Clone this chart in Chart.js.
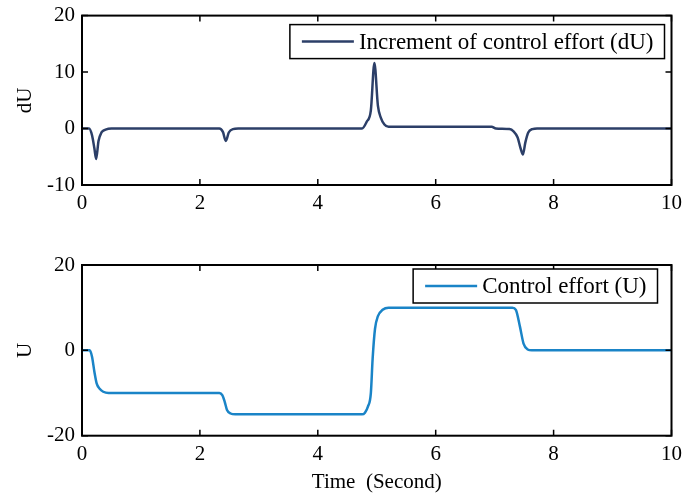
<!DOCTYPE html>
<html>
<head>
<meta charset="utf-8">
<script src="https://cdn.jsdelivr.net/npm/chart.js@4.4.1/dist/chart.umd.min.js"></script>
<style>
  html, body { margin: 0; padding: 0; background: #ffffff; }
  body { width: 683px; height: 498px; position: relative; overflow: hidden; }
  canvas { position: absolute; left: 0; }
  #c1 { top: -4px; }
  #c2 { top: 240px; }
</style>
</head>
<body>
<canvas id="c1" width="688" height="240"></canvas>
<canvas id="c2" width="688" height="258"></canvas>
<script>
// ---- data ----
const xTicks = [0, 2, 4, 6, 8, 10];
const dUTicks = [-10, 0, 10, 20];
const UTicks = [-20, 0, 20];

const timeDU = [0, 0.12, 0.17, 0.21, 0.24, 0.28, 0.33, 0.4, 0.5,
  2.33, 2.39, 2.44, 2.49, 2.56, 2.65,
  4.75, 4.83, 4.9, 4.96, 5.02, 5.07, 5.13, 5.2,
  6.95, 7.02, 7.25, 7.32, 7.39, 7.44, 7.48, 7.52, 7.57, 7.64, 7.72, 10];
const dU = [0, 0, -1.2, -3.5, -5.4, -2.2, -0.7, -0.2, 0,
  0, -0.6, -2.2, -0.7, -0.1, 0,
  0, 1.2, 3.2, 11.6, 4.0, 1.9, 0.7, 0.3,
  0.3, 0, -0.1, -0.5, -1.6, -3.5, -4.6, -2.5, -0.7, -0.1, 0, 0];

const timeU = [0, 0.13, 0.17, 0.21, 0.25, 0.3, 0.36, 0.45,
  2.33, 2.38, 2.42, 2.46, 2.52, 2.6,
  4.75, 4.8, 4.85, 4.9, 4.93, 4.97, 5.02, 5.1, 5.2,
  7.3, 7.36, 7.43, 7.49, 7.56, 7.63, 10];
const U = [0, 0, -1.5, -5.0, -7.8, -9.0, -9.7, -10,
  -10, -10.5, -12, -14, -14.8, -15,
  -15, -14.6, -13.2, -10, -2, 5, 8, 9.5, 10,
  10, 9.5, 5.5, 1.6, 0.2, 0, 0];

const FONT = 'Liberation Serif, "Times New Roman", serif';

const frameTicks = {
  id: 'frameTicks',
  afterDatasetsDraw(chart) {
    const { ctx, chartArea: a, scales } = chart;
    const L = 6;
    ctx.save();
    ctx.strokeStyle = '#000';
    ctx.lineWidth = 1.5;
    ctx.beginPath();
    scales.x.ticks.forEach(t => {
      const px = scales.x.getPixelForValue(t.value);
      ctx.moveTo(px, a.bottom); ctx.lineTo(px, a.bottom - L);
      ctx.moveTo(px, a.top); ctx.lineTo(px, a.top + L);
    });
    scales.y.ticks.forEach(t => {
      const py = scales.y.getPixelForValue(t.value);
      ctx.moveTo(a.left, py); ctx.lineTo(a.left + L, py);
      ctx.moveTo(a.right, py); ctx.lineTo(a.right - L, py);
    });
    ctx.stroke();
    ctx.lineWidth = 2;
    ctx.strokeRect(a.left, a.top, a.right - a.left, a.bottom - a.top);
    ctx.restore();
  }
};

const boxLegend = {
  id: 'boxLegend',
  afterDraw(chart, args, opts) {
    const { ctx, chartArea: a } = chart;
    const ds = chart.data.datasets[0];
    ctx.save();
    ctx.font = opts.fontSize + 'px ' + FONT;
    const tw = ctx.measureText(ds.label).width;
    const w = opts.padL + opts.lineLen + opts.gap + tw + opts.padR;
    const right = a.right - opts.right;
    const left = right - w;
    const top = a.top + opts.top;
    const h = opts.height;
    ctx.fillStyle = '#fff';
    ctx.fillRect(left, top, w, h);
    ctx.strokeStyle = '#000';
    ctx.lineWidth = 1.5;
    ctx.strokeRect(left, top, w, h);
    ctx.strokeStyle = ds.borderColor;
    ctx.lineWidth = ds.borderWidth;
    ctx.beginPath();
    ctx.moveTo(left + opts.padL, top + h / 2);
    ctx.lineTo(left + opts.padL + opts.lineLen, top + h / 2);
    ctx.stroke();
    ctx.fillStyle = '#000';
    ctx.textBaseline = 'middle';
    ctx.textAlign = 'left';
    ctx.fillText(ds.label, left + opts.padL + opts.lineLen + opts.gap, top + h / 2 + 1);
    ctx.restore();
  }
};

function makeChart(id, times, vals, label, color, yTicks, yMin, yMax, yTitle, xTitle, padTop, xAxisH, legendOpts) {
  const points = times.map((t, i) => ({ x: t, y: vals[i] }));
  return new Chart(document.getElementById(id), {
    type: 'line',
    data: {
      datasets: [{
        label: label,
        data: points,
        borderColor: color,
        borderWidth: 2.5,
        pointRadius: 0,
        fill: false,
        cubicInterpolationMode: 'monotone'
      }]
    },
    options: {
      responsive: false,
      animation: false,
      devicePixelRatio: 1,
      layout: { padding: { left: 0, right: 0, top: padTop, bottom: 0 } },
      plugins: {
        legend: { display: false },
        tooltip: { enabled: false },
        boxLegend: legendOpts
      },
      scales: {
        x: {
          type: 'linear',
          min: 0, max: 10,
          afterBuildTicks: s => { s.ticks = xTicks.map(v => ({ value: v })); },
          afterFit: s => { s.height = xAxisH; },
          grid: { display: false, drawTicks: false },
          border: { display: false },
          ticks: { color: '#000', font: { family: FONT, size: 21 }, padding: 6, maxRotation: 0 },
          title: xTitle ? { display: true, text: xTitle, color: '#000', font: { family: FONT, size: 21 }, padding: { top: 0, bottom: 3 } } : { display: false }
        },
        y: {
          type: 'linear',
          min: yMin, max: yMax,
          afterBuildTicks: s => { s.ticks = yTicks.map(v => ({ value: v })); },
          afterFit: s => { s.width = 82; },
          grid: { display: false, drawTicks: false },
          border: { display: false },
          ticks: { color: '#000', font: { family: FONT, size: 21 }, padding: 7 },
          title: { display: true, text: yTitle, color: '#000', font: { family: FONT, size: 21 }, padding: { top: 13, bottom: 0 } }
        }
      }
    },
    plugins: [frameTicks, boxLegend]
  });
}

makeChart('c1', timeDU, dU, 'Increment of control effort (dU)', '#2c3f68',
  dUTicks, -10, 20, 'dU', null, 14, 51,
  { fontSize: 23, padL: 12, lineLen: 52, gap: 5, padR: 11, right: 7, top: 9, height: 34 });

makeChart('c2', timeU, U, 'Control effort (U)', '#1a84c7',
  UTicks, -20, 20, 'U', 'Time  (Second)', 25, 62.3,
  { fontSize: 23, padL: 12, lineLen: 52, gap: 5, padR: 11, right: 14, top: 4, height: 34 });
</script>
</body>
</html>
